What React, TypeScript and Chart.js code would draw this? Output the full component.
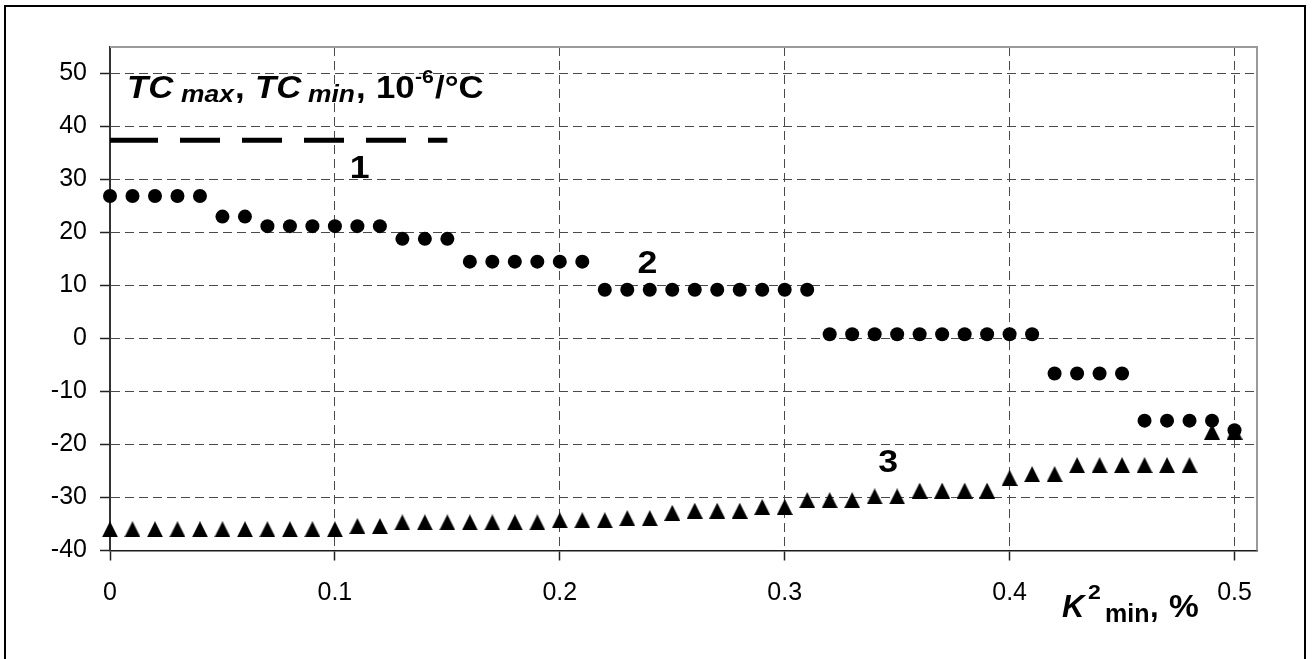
import React, { useEffect, useRef } from 'react';
import { Chart, registerables } from 'chart.js';

Chart.register(...registerables);

// K²min, % (x positions of the computed points)
const k2min = [
  0, 0.01, 0.02, 0.03, 0.04, 0.05, 0.06, 0.07, 0.08, 0.09,
  0.1, 0.11, 0.12, 0.13, 0.14, 0.15, 0.16, 0.17, 0.18, 0.19,
  0.2, 0.21, 0.22, 0.23, 0.24, 0.25, 0.26, 0.27, 0.28, 0.29,
  0.3, 0.31, 0.32, 0.33, 0.34, 0.35, 0.36, 0.37, 0.38, 0.39,
  0.4, 0.41, 0.42, 0.43, 0.44, 0.45, 0.46, 0.47, 0.48, 0.49,
  0.5,
];

// Curve 2: TCmax, 10^-6/°C
const tcMax = [
  26.9, 26.9, 26.9, 26.9, 26.9, 23.0, 23.0, 21.2, 21.2, 21.2,
  21.2, 21.2, 21.2, 18.8, 18.8, 18.8, 14.5, 14.5, 14.5, 14.5,
  14.5, 14.5, 9.2, 9.2, 9.2, 9.2, 9.2, 9.2, 9.2, 9.2,
  9.2, 9.2, 0.8, 0.8, 0.8, 0.8, 0.8, 0.8, 0.8, 0.8,
  0.8, 0.8, -6.6, -6.6, -6.6, -6.6, -15.5, -15.5, -15.5, -15.5,
  -17.3,
];

// Curve 3: TCmin, 10^-6/°C
const tcMin = [
  -36.0, -36.0, -36.0, -36.0, -36.0, -36.0, -36.0, -36.0, -36.0, -36.0,
  -36.0, -35.4, -35.4, -34.7, -34.7, -34.7, -34.7, -34.7, -34.7, -34.7,
  -34.3, -34.3, -34.3, -33.9, -33.9, -32.9, -32.5, -32.5, -32.5, -31.8,
  -31.8, -30.5, -30.5, -30.5, -29.8, -29.8, -28.7, -28.7, -28.7, -28.7,
  -26.3, -25.6, -25.6, -23.9, -23.9, -23.9, -23.9, -23.9, -23.9, -17.6,
  -17.6,
];

// Curve 1: reference level (dashed)
const refLineX = [0, 0.15];
const refLineY = [37.4, 37.4];

const xTicks = [0, 0.1, 0.2, 0.3, 0.4, 0.5];
const xTickLabels = ['0', '0.1', '0.2', '0.3', '0.4', '0.5'];
const yTicks = [-40, -30, -20, -10, 0, 10, 20, 30, 40, 50];
const yTickLabels = ['-40', '-30', '-20', '-10', '0', '10', '20', '30', '40', '50'];

const FONT = '"Liberation Sans", Arial, Helvetica, sans-serif';

function stretchText(
  ctx: CanvasRenderingContext2D,
  text: string,
  x: number,
  y: number,
  font: string,
  sx: number,
  align: CanvasTextAlign = 'left'
) {
  ctx.save();
  ctx.font = font;
  ctx.textAlign = align;
  ctx.textBaseline = 'alphabetic';
  ctx.translate(x, y);
  ctx.scale(sx, 1);
  ctx.fillText(text, 0, 0);
  ctx.restore();
}

const framePlugin = {
  id: 'plotFrame',
  beforeDatasetsDraw(chart: any) {
    const { ctx, chartArea: a } = chart;
    ctx.save();
    ctx.strokeStyle = '#9a9a9a';
    ctx.lineWidth = 2;
    ctx.beginPath();
    ctx.moveTo(a.left, a.top);
    ctx.lineTo(a.right, a.top);
    ctx.lineTo(a.right, a.bottom);
    ctx.stroke();
    ctx.restore();
  },
};

const textPlugin = {
  id: 'chartTexts',
  afterDraw(chart: any) {
    const { ctx, chartArea: a, scales } = chart;
    const xs = scales.x;
    const ys = scales.y;
    ctx.save();
    ctx.fillStyle = '#000';

    // Axis title of the y axis, written inside the plot
    const L = a.left;
    const bi = (s: number) => `italic bold ${s}px ${FONT}`;
    const b = (s: number) => `bold ${s}px ${FONT}`;
    stretchText(ctx, 'TC', L + 17, 98, bi(31), 1.12);
    stretchText(ctx, 'max', L + 71, 101.5, bi(24), 1.1);
    stretchText(ctx, ',', L + 125, 98, b(31), 1.12);
    stretchText(ctx, 'TC', L + 145, 98, bi(31), 1.12);
    stretchText(ctx, 'min', L + 198, 101.5, bi(24), 1.1);
    stretchText(ctx, ',', L + 246, 98, b(31), 1.12);
    stretchText(ctx, '10', L + 266, 98, b(31), 1.12);
    stretchText(ctx, '-6', L + 305, 83, b(19), 1.12);
    stretchText(ctx, '/°C', L + 325, 98, b(31), 1.12);

    // Curve numbers
    stretchText(ctx, '1', xs.getPixelForValue(0.111), ys.getPixelForValue(30.3), b(31), 1.15, 'center');
    stretchText(ctx, '2', xs.getPixelForValue(0.239), ys.getPixelForValue(12.4), b(31), 1.15, 'center');
    stretchText(ctx, '3', xs.getPixelForValue(0.346), ys.getPixelForValue(-25.1), b(31), 1.15, 'center');

    // Axis title of the x axis
    const R = a.right;
    const B = a.bottom;
    stretchText(ctx, 'K', R - 195, B + 66.5, bi(31), 1.0);
    stretchText(ctx, '2', R - 169, B + 48.5, b(21), 1.1);
    stretchText(ctx, 'min', R - 152, B + 71, b(25), 1.0);
    stretchText(ctx, ',', R - 107, B + 66.5, b(31), 1.0);
    stretchText(ctx, '%', R - 88, B + 66.5, b(31), 1.08);
    ctx.restore();
  },
};

export default function App() {
  const canvasRef = useRef<HTMLCanvasElement>(null);

  useEffect(() => {
    // Filled triangle marker with equal width and height, centred on its point
    const tri = document.createElement('canvas');
    tri.width = 16;
    tri.height = 16;
    const tctx = tri.getContext('2d')!;
    tctx.fillStyle = '#000';
    tctx.beginPath();
    tctx.moveTo(8, 0);
    tctx.lineTo(16, 16);
    tctx.lineTo(0, 16);
    tctx.closePath();
    tctx.fill();

    const gridColor = (c: any) => (c.index === 0 ? 'rgba(0,0,0,0)' : '#4a4a4a');

    const chart = new Chart(canvasRef.current!, {
      type: 'scatter',
      data: {
        datasets: [
          {
            label: '1',
            data: refLineX.map((x, i) => ({ x, y: refLineY[i] })),
            showLine: true,
            borderColor: '#000',
            borderWidth: 5,
            // long first dash, then even dashes
            borderDash: [48, 22, 40, 22, 40, 22, 40, 22, 40, 22, 40, 22],
            borderCapStyle: 'butt',
            pointRadius: 0,
            clip: false,
          } as any,
          {
            label: '2',
            data: k2min.map((x, i) => ({ x, y: tcMax[i] })),
            showLine: false,
            pointStyle: 'circle',
            pointRadius: 7,
            pointBorderWidth: 0,
            pointBackgroundColor: '#000',
            pointBorderColor: '#000',
            clip: false,
          } as any,
          {
            label: '3',
            data: k2min.map((x, i) => ({ x, y: tcMin[i] })),
            showLine: false,
            pointStyle: tri,
            pointRadius: 8,
            pointBorderWidth: 0,
            clip: false,
          } as any,
        ],
      },
      options: {
        animation: false,
        responsive: false,
        events: [],
        layout: { padding: { left: 0, top: 47, right: 55, bottom: 0 } },
        plugins: {
          legend: { display: false },
          tooltip: { enabled: false },
          title: { display: false },
        },
        scales: {
          x: {
            type: 'linear',
            position: 'bottom',
            min: 0,
            max: 0.51,
            afterBuildTicks: (s: any) => {
              s.ticks = xTicks.map((v) => ({ value: v }));
            },
            afterFit: (s: any) => {
              s.height = 108.5;
            },
            ticks: {
              autoSkip: false,
              maxRotation: 0,
              minRotation: 0,
              padding: 18,
              color: '#000',
              font: { family: FONT, size: 25 },
              callback: (_v: any, i: number) => xTickLabels[i],
            },
            grid: {
              color: gridColor,
              lineWidth: 1,
              tickLength: 10,
              tickColor: '#222',
              tickWidth: 1.5,
            },
            border: { display: true, color: '#1a1a1a', width: 1.5, dash: [9, 5] },
          },
          y: {
            type: 'linear',
            min: -40,
            max: 55,
            afterBuildTicks: (s: any) => {
              s.ticks = yTicks.map((v) => ({ value: v }));
            },
            afterFit: (s: any) => {
              s.width = 110;
            },
            ticks: {
              autoSkip: false,
              padding: 13,
              color: '#000',
              font: { family: FONT, size: 25 },
              callback: (_v: any, i: number) => yTickLabels[i],
            },
            grid: {
              color: gridColor,
              lineWidth: 1,
              tickLength: 10,
              tickColor: '#222',
              tickWidth: 1.5,
            },
            border: { display: true, color: '#333', width: 2, dash: [9, 5] },
          },
        },
      } as any,
      plugins: [framePlugin, textPlugin],
    });

    return () => chart.destroy();
  }, []);

  return (
    <div
      style={{
        position: 'fixed',
        left: 0,
        top: 0,
        width: 1312,
        height: 659,
        background: '#fff',
        overflow: 'hidden',
      }}
    >
      <div
        style={{
          position: 'absolute',
          left: 4,
          top: 5,
          width: 1302,
          height: 700,
          border: '2px solid #000',
          boxSizing: 'border-box',
        }}
      />
      <canvas
        ref={canvasRef}
        width={1312}
        height={659}
        style={{ position: 'absolute', left: 0, top: 0, width: 1312, height: 659 }}
      />
    </div>
  );
}
